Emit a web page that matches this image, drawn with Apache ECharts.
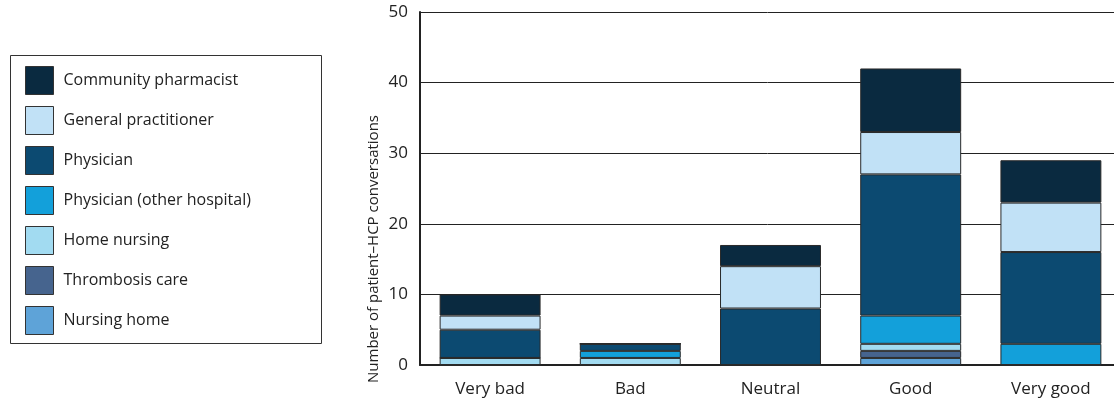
<!DOCTYPE html>
<html><head><meta charset="utf-8">
<script src="https://cdn.jsdelivr.net/npm/echarts@6/dist/echarts.min.js"></script>
<style>html,body{margin:0;padding:0;background:#fff}#c{width:1114px;height:401px}</style>
</head><body><div id="c"></div>
<script>
const categories = ['Very bad', 'Bad', 'Neutral', 'Good', 'Very good'];
const nursingHome = [0, 0, 0, 1, 0];
const thrombosisCare = [0, 0, 0, 1, 0];
const homeNursing = [1, 1, 0, 1, 0];
const physicianOther = [0, 1, 0, 4, 3];
const physician = [4, 1, 8, 20, 13];
const generalPractitioner = [2, 0, 6, 6, 7];
const communityPharmacist = [3, 0, 3, 9, 6];
const yTicks = [0, 10, 20, 30, 40, 50];

const FONT = 'Open Sans';
const seriesDefs = [
  ['Nursing home', nursingHome, '#5ea3d8'],
  ['Thrombosis care', thrombosisCare, '#46648e'],
  ['Home nursing', homeNursing, '#a2dbf1'],
  ['Physician (other hospital)', physicianOther, '#13a0da'],
  ['Physician', physician, '#0c4a71'],
  ['General practitioner', generalPractitioner, '#c1e1f6'],
  ['Community pharmacist', communityPharmacist, '#0a2a40']
];
const chart = echarts.init(document.getElementById('c'), null, {renderer: 'canvas'});
chart.setOption({
  animation: false,
  textStyle: {fontFamily: FONT},
  grid: {left: 420, width: 701, top: 12, bottom: 36, containLabel: false, outerBoundsMode: 'none'},
  graphic: [
    {type: 'rect', shape: {x: 10.5, y: 55.5, width: 311, height: 288}, style: {fill: 'none', stroke: '#333', lineWidth: 1}},
    {type: 'text', x: 366, y: 249, rotation: Math.PI / 2, style: {text: 'Number of patient\u2013HCP conversations', fontFamily: FONT, fontSize: 15, fill: '#222', align: 'center', verticalAlign: 'top'}}
  ],
  legend: {
    left: 25, top: 66, orient: 'vertical', icon: 'rect', padding: 0,
    itemWidth: 28, itemHeight: 28, itemGap: 11,
    data: ['Community pharmacist', 'General practitioner', 'Physician', 'Physician (other hospital)', 'Home nursing', 'Thrombosis care', 'Nursing home'],
    textStyle: {fontFamily: FONT, fontSize: 16, color: '#222', padding: [0, 0, 0, 5]},
    itemStyle: {borderColor: '#333', borderWidth: 1}
  },
  xAxis: {
    type: 'category', data: categories,
    axisLine: {lineStyle: {color: '#222', width: 2}},
    axisTick: {show: false},
    axisLabel: {fontFamily: FONT, fontSize: 17, color: '#222', margin: 16}
  },
  yAxis: {
    type: 'value', min: yTicks[0], max: yTicks[yTicks.length - 1], interval: 10,
    axisLine: {show: true, lineStyle: {color: '#222', width: 2}},
    axisTick: {show: false},
    axisLabel: {fontFamily: FONT, fontSize: 17, color: '#222', margin: 12},
    splitLine: {lineStyle: {color: '#222', width: 1}}
  },
  series: seriesDefs.map(([name, data, color]) => ({
    name, type: 'bar', stack: 'total', data, barWidth: '72%',
    itemStyle: {color, borderColor: '#2a2a2a', borderWidth: 1}
  }))
});
</script></body></html>
